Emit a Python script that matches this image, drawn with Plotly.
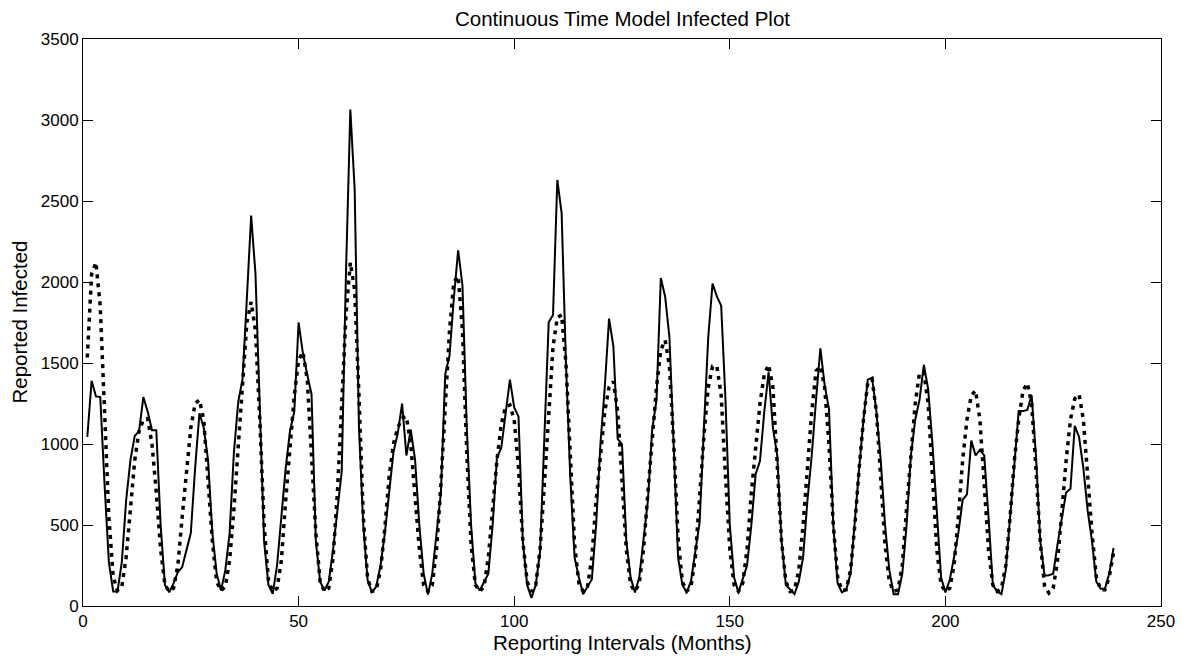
import plotly.graph_objects as go

# Reporting interval index (months)
months = list(range(1, 240))

# Observed reported infected (solid line)
observed = [
    1043, 1390, 1294, 1290, 750, 270, 90, 90, 270, 650,
    900, 1050, 1080, 1290, 1200, 1085, 1085, 500, 130, 85,
    140, 210, 240, 350, 450, 850, 1190, 1100, 900, 450,
    200, 96, 220, 450, 950, 1260, 1400, 1900, 2410, 2050,
    1200, 400, 130, 75, 250, 550, 850, 1080, 1200, 1750,
    1560, 1430, 1306, 400, 150, 96, 150, 350, 600, 830,
    2071, 3064, 2573, 1100, 500, 160, 84, 120, 250, 450,
    700, 950, 1066, 1249, 929, 1089, 906, 500, 200, 70,
    200, 450, 700, 1430, 1546, 1900, 2196, 1979, 1100, 500,
    141, 96, 150, 199, 500, 918, 975, 1200, 1397, 1226,
    1169, 400, 130, 50, 130, 336, 1000, 1751, 1797, 2630,
    2425, 1500, 800, 300, 176, 73, 120, 164, 500, 1000,
    1350, 1774, 1603, 1032, 998, 400, 176, 84, 176, 400,
    650, 1089, 1272, 2025, 1911, 1660, 1000, 300, 130, 84,
    153, 350, 518, 1100, 1660, 1991, 1911, 1854, 1272, 500,
    176, 84, 170, 250, 500, 815, 895, 1200, 1443, 1100,
    929, 400, 130, 100, 73, 150, 300, 650, 929, 1272,
    1591, 1363, 1215, 500, 141, 84, 100, 200, 550, 850,
    1150, 1397, 1409, 1200, 900, 500, 221, 73, 73, 199,
    500, 929, 1150, 1272, 1489, 1340, 1000, 587, 176, 84,
    160, 300, 450, 655, 689, 1021, 929, 963, 929, 550,
    130, 90, 73, 221, 550, 900, 1203, 1203, 1210, 1300,
    929, 400, 187, 190, 199, 381, 550, 701, 724, 1112,
    1043, 850, 587, 400, 150, 107, 107, 200, 358,
]

# Continuous time model fit (dotted line)
model = [
    1534, 2050, 2121, 1850, 1200, 550, 180, 95, 120, 300,
    600, 900, 1080, 1150, 1157, 1000, 700, 350, 130, 90,
    110, 250, 550, 850, 1100, 1250, 1272, 1150, 800, 400,
    150, 95, 120, 280, 600, 1000, 1400, 1750, 1877, 1700,
    1150, 500, 160, 90, 110, 280, 650, 1000, 1300, 1520,
    1568, 1400, 950, 450, 150, 90, 110, 300, 700, 1200,
    1800, 2121, 1950, 1300, 550, 170, 90, 100, 220, 480,
    800, 1000, 1100, 1160, 1169, 1000, 700, 350, 130, 90,
    130, 350, 750, 1250, 1700, 2000, 2036, 1700, 950, 380,
    130, 90, 120, 300, 600, 900, 1120, 1230, 1240, 1150,
    850, 400, 150, 90, 130, 350, 750, 1200, 1600, 1780,
    1797, 1500, 900, 380, 140, 90, 120, 300, 650, 950,
    1200, 1350, 1386, 1200, 800, 350, 130, 90, 140, 350,
    700, 1050, 1350, 1580, 1641, 1480, 1000, 420, 150, 90,
    120, 300, 700, 1050, 1350, 1480, 1480, 1300, 800, 350,
    130, 90, 140, 350, 700, 1000, 1250, 1430, 1489, 1350,
    900, 400, 150, 90, 100, 220, 500, 850, 1200, 1450,
    1480, 1350, 1000, 500, 180, 95, 100, 220, 500, 850,
    1150, 1380, 1400, 1200, 800, 380, 150, 90, 100, 250,
    600, 950, 1250, 1440, 1440, 1250, 800, 350, 130, 90,
    110, 250, 550, 900, 1150, 1300, 1329, 1150, 750, 350,
    130, 90, 110, 250, 550, 900, 1150, 1330, 1375, 1250,
    850, 400, 120, 80, 110, 280, 580, 900, 1150, 1280,
    1306, 1150, 800, 450, 180, 100, 100, 180, 330,
]

x_ticks = [0, 50, 100, 150, 200, 250]
y_ticks = [0, 500, 1000, 1500, 2000, 2500, 3000, 3500]

FONT = "Liberation Sans, Arial, Helvetica, sans-serif"

fig = go.Figure()
fig.add_trace(go.Scatter(
    x=months, y=observed, mode="lines",
    line=dict(color="black", width=2),
    showlegend=False, hoverinfo="skip",
))
fig.add_trace(go.Scatter(
    x=months, y=model, mode="lines",
    line=dict(color="black", width=3.5, dash="4px,5px"),
    showlegend=False, hoverinfo="skip",
))

axis_common = dict(
    showline=True, linecolor="black", linewidth=1, mirror="ticks",
    ticks="inside", ticklen=10, tickwidth=1, tickcolor="black",
    showgrid=False, zeroline=False,
    tickfont=dict(family=FONT, size=17, color="black"),
)

fig.update_xaxes(range=[0, 250], tickmode="array", tickvals=x_ticks,
                 ticktext=[str(v) for v in x_ticks], **axis_common)
fig.update_yaxes(range=[0, 3500], tickmode="array", tickvals=y_ticks,
                 ticktext=[str(v) for v in y_ticks], **axis_common)

fig.update_layout(
    width=1187, height=656,
    margin=dict(l=83, r=23, t=39, b=50),
    paper_bgcolor="white", plot_bgcolor="white",
    font=dict(family=FONT, color="black"),
    annotations=[
        dict(text="Continuous Time Model Infected Plot", x=0.5, y=1,
             xref="paper", yref="paper", xanchor="center", yanchor="middle",
             yshift=21, showarrow=False, font=dict(size=20.5, family=FONT)),
        dict(text="Reporting Intervals (Months)", x=0.5, y=0,
             xref="paper", yref="paper", xanchor="center", yanchor="middle",
             yshift=-36, showarrow=False, font=dict(size=20.5, family=FONT)),
        dict(text="Reported Infected", x=0, y=0.5,
             xref="paper", yref="paper", xanchor="center", yanchor="middle",
             xshift=-64, textangle=-90, showarrow=False,
             font=dict(size=20.5, family=FONT)),
    ],
)

fig.write_html("out.html")
